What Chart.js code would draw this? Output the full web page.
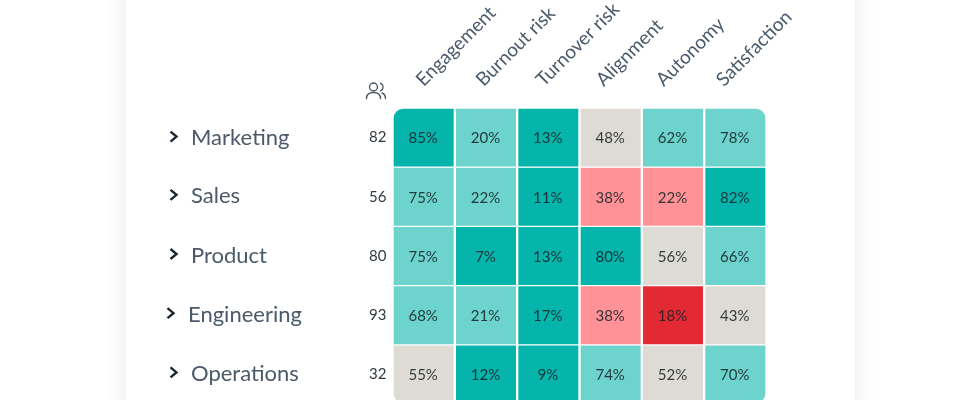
<!DOCTYPE html>
<html><head><meta charset="utf-8">
<style>
html,body{margin:0;padding:0;width:980px;height:400px;overflow:hidden;background:#fff}
#card{position:absolute;left:126px;top:-60px;width:729px;height:600px;background:#fff;box-shadow:0 0 22px rgba(0,0,0,.09)}
canvas{position:absolute;left:0;top:0}
</style>
<script src="https://cdn.jsdelivr.net/npm/chart.js@4"></script>
</head><body>
<div id="card"></div>
<canvas id="c" width="980" height="440"></canvas>
<script>
const metrics = ["Engagement","Burnout risk","Turnover risk","Alignment","Autonomy","Satisfaction"];
const departments = ["Marketing","Sales","Product","Engineering","Operations"];
const headcounts = [82,56,80,93,32];
const marketing = [85,20,13,48,62,78];
const sales = [75,22,11,38,22,82];
const product = [75,7,13,80,56,66];
const engineering = [68,21,17,38,18,43];
const operations = [55,12,9,74,52,70];
const marketingBands = ["good","fair","good","mid","fair","fair"];
const salesBands = ["fair","fair","good","weak","weak","good"];
const productBands = ["fair","good","good","good","mid","fair"];
const engineeringBands = ["fair","fair","good","weak","poor","mid"];
const operationsBands = ["mid","good","good","fair","mid","fair"];
const bandColors = {good:"#05b5ac",fair:"#6cd3cd",mid:"#dedbd4",weak:"#fe9297",poor:"#e22934"};
const rowValues = [marketing,sales,product,engineering,operations];
const rowBands = [marketingBands,salesBands,productBands,engineeringBands,operationsBands];
const FONT = "Lato";
const nameNudgeX = [0,0,0,-3,0];
const nameNudgeY = [0,-1,-1,-1,-1];

const datasets = departments.map((d,r)=>({
  label:d,
  data:metrics.map((m,c)=>({x:m,y:[r,r+1],v:rowValues[r][c]})),
  backgroundColor:rowBands[r].map(b=>bandColors[b]),
  borderColor:"#fff",borderWidth:{left:1.5,right:1.5,top:1,bottom:1},borderSkipped:false,
  barPercentage:1,categoryPercentage:1,grouped:false,
  borderRadius:metrics.map((m,c)=>({
    topLeft:(r===0&&c===0)?11:0,topRight:(r===0&&c===5)?11:0,
    bottomLeft:(r===4&&c===0)?11:0,bottomRight:(r===4&&c===5)?11:0}))
}));

const extras = {
  id:"extras",
  afterDatasetsDraw(chart){
    const ctx=chart.ctx, y=chart.scales.y;
    ctx.save();
    ctx.textAlign="center";ctx.textBaseline="middle";
    ctx.font="15px "+FONT;
    chart.data.datasets.forEach((ds,i)=>{
      chart.getDatasetMeta(i).data.forEach((el,j)=>{
        const mid=y.getPixelForValue(i+.5);
        ctx.fillStyle="rgba(25,35,40,.88)";
        ctx.fillText(ds.data[j].v+"%",el.x-.5,mid+1);
      });
    });
    departments.forEach((d,i)=>{
      const mid=y.getPixelForValue(i+.5)+nameNudgeY[i], nx=nameNudgeX[i];
      ctx.textAlign="left";ctx.font="22px "+FONT;ctx.fillStyle="#4a5a6b";
      ctx.fillText(d,191+nx,mid+.5);
      ctx.strokeStyle="#1c2630";ctx.lineWidth=2.4;ctx.lineCap="butt";ctx.lineJoin="miter";
      ctx.beginPath();ctx.moveTo(170.5+nx,mid-6);ctx.lineTo(176.5+nx,mid-1);ctx.lineTo(170.5+nx,mid+4);ctx.stroke();
    });
    // people icon
    ctx.strokeStyle="#4a5a6b";ctx.lineWidth=1.4;ctx.lineCap="round";
    ctx.beginPath();ctx.arc(373.5,87,4,0,Math.PI*2);ctx.stroke();
    ctx.beginPath();ctx.moveTo(366.5,98.5);ctx.bezierCurveTo(366.5,94,369.5,92.5,373.5,92.5);ctx.bezierCurveTo(377.5,92.5,380.5,94,380.5,98.5);ctx.stroke();
    ctx.beginPath();ctx.arc(379,87,4,-1.2,1.2);ctx.stroke();
    ctx.beginPath();ctx.moveTo(382,93);ctx.bezierCurveTo(384.5,94,385.5,96,385.5,98.5);ctx.stroke();
    ctx.restore();
  }
};

new Chart(document.getElementById("c"),{
  type:"bar",
  data:{labels:metrics,datasets},
  plugins:[extras],
  options:{
    responsive:false,animation:false,
    layout:{padding:{left:0,top:0,right:213.5,bottom:36}},
    plugins:{legend:{display:false},tooltip:{enabled:false}},
    scales:{
      x:{display:false},
      xHeader:{type:"linear",position:"top",offset:false,min:-0.5,max:5.73,
        grid:{display:false},border:{display:false},
        afterFit(s){s.height=108;},
        afterBuildTicks(s){s.ticks=metrics.map((m,i)=>({value:i}));},
        ticks:{minRotation:45,maxRotation:45,autoSkip:false,padding:9,labelOffset:13,
          color:"#4a5a6b",font:{family:FONT,size:19},
          callback(v){return metrics[v];}}},
      y:{min:0,max:5,reverse:true,grid:{display:false,drawTicks:false},border:{display:false},
        afterFit(s){s.width=392.5;},
        afterBuildTicks(s){s.ticks=departments.map((d,i)=>({value:i+.5}));},
        ticks:{padding:6,color:"#333a40",font:{family:FONT,size:15},
          callback(v){return headcounts[Math.floor(v)];}}}
    }
  }
});
</script>
</body></html>
